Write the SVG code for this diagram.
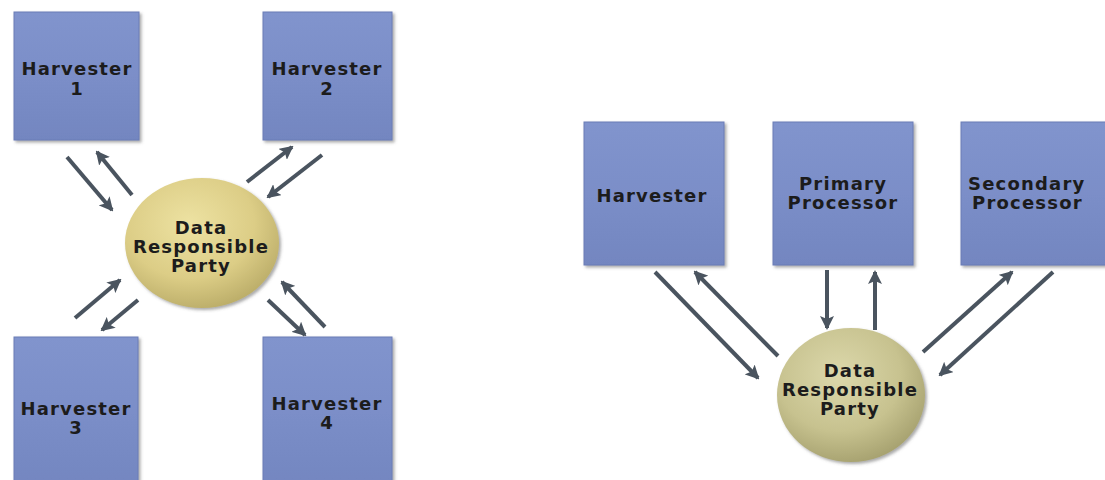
<svg xmlns="http://www.w3.org/2000/svg" width="1105" height="480" viewBox="0 0 1105 480">
  <defs>
    <style>
      .box { fill: url(#boxGrad); stroke: #6a7db6; stroke-width: 1; filter: url(#shadow); }
      .lbl { font-family: "DejaVu Sans", "Liberation Sans", sans-serif; font-weight: bold; font-size: 18px; letter-spacing: 1.2px; fill: #1c1c1c; text-anchor: middle; }
      .st { text-anchor: start; }
      .arr { stroke: #4a545f; stroke-width: 4; fill: none; marker-end: url(#head); }
    </style>
    <linearGradient id="boxGrad" x1="0" y1="0" x2="0" y2="1">
      <stop offset="0" stop-color="#8194cd"/>
      <stop offset="0.5" stop-color="#7b8ec8"/>
      <stop offset="1" stop-color="#7386c0"/>
    </linearGradient>
    <radialGradient id="ellY" cx="0.42" cy="0.35" r="0.7">
      <stop offset="0" stop-color="#ede2a2"/>
      <stop offset="0.6" stop-color="#dccd86"/>
      <stop offset="1" stop-color="#b8aa66"/>
    </radialGradient>
    <radialGradient id="ellO" cx="0.42" cy="0.35" r="0.7">
      <stop offset="0" stop-color="#dcd8ab"/>
      <stop offset="0.6" stop-color="#c7c28f"/>
      <stop offset="1" stop-color="#a39e6c"/>
    </radialGradient>
    <filter id="shadow" x="-10%" y="-10%" width="125%" height="125%">
      <feDropShadow dx="2" dy="2" stdDeviation="1.5" flood-color="#555" flood-opacity="0.5"/>
    </filter>
    <marker id="head" viewBox="0 0 14 14" refX="12" refY="7" markerWidth="14" markerHeight="14" markerUnits="userSpaceOnUse" orient="auto">
      <path d="M0,0 L14,7 L0,14 L3,7 z" fill="#4a545f"/>
    </marker>
  </defs>

  <!-- Left diagram -->
  <g id="h1"><rect class="box" x="14" y="12" width="125" height="128"/>
    <text class="lbl" x="77" y="75">Harvester</text><text class="lbl" x="77" y="95">1</text></g>
  <g id="h2"><rect class="box" x="263" y="12" width="129" height="128"/>
    <text class="lbl" x="327" y="75">Harvester</text><text class="lbl" x="327" y="95">2</text></g>
  <g id="h3"><rect class="box" x="14" y="337" width="124" height="150"/>
    <text class="lbl" x="76" y="415">Harvester</text><text class="lbl" x="76" y="434">3</text></g>
  <g id="h4"><rect class="box" x="263" y="337" width="129" height="150"/>
    <text class="lbl" x="327" y="410">Harvester</text><text class="lbl" x="327" y="429">4</text></g>
  <g id="drp1"><ellipse cx="202" cy="243" rx="77" ry="65" fill="url(#ellY)" filter="url(#shadow)"/>
    <text class="lbl" x="201" y="234">Data</text><text class="lbl" x="201" y="253">Responsible</text><text class="lbl" x="201" y="272">Party</text></g>

  <!-- Right diagram -->
  <g id="rh"><rect class="box" x="584" y="122" width="140" height="143"/>
    <text class="lbl" x="652" y="202">Harvester</text></g>
  <g id="pp"><rect class="box" x="773" y="122" width="140" height="143"/>
    <text class="lbl" x="843" y="190">Primary</text><text class="lbl" x="843" y="209">Processor</text></g>
  <g id="sp"><rect class="box" x="961" y="122" width="150" height="143"/>
    <text class="lbl st" x="968" y="190">Secondary</text><text class="lbl st" x="972" y="209">Processor</text></g>
  <g id="drp2"><ellipse cx="851" cy="395" rx="74" ry="67" fill="url(#ellO)" filter="url(#shadow)"/>
    <text class="lbl" x="850" y="377">Data</text><text class="lbl" x="850" y="396">Responsible</text><text class="lbl" x="850" y="415">Party</text></g>

  <g id="connectors">
    <line class="arr" x1="67" y1="157" x2="112" y2="210"/>
    <line class="arr" x1="132" y1="195" x2="97" y2="152"/>
    <line class="arr" x1="247" y1="182" x2="292" y2="147"/>
    <line class="arr" x1="322" y1="155" x2="268" y2="197"/>
    <line class="arr" x1="75" y1="318" x2="120" y2="280"/>
    <line class="arr" x1="138" y1="300" x2="102" y2="330"/>
    <line class="arr" x1="268" y1="300" x2="305" y2="335"/>
    <line class="arr" x1="325" y1="327" x2="282" y2="282"/>

    <line class="arr" x1="655" y1="272" x2="758" y2="378"/>
    <line class="arr" x1="778" y1="356" x2="695" y2="272"/>
    <line class="arr" x1="827" y1="270" x2="827" y2="328"/>
    <line class="arr" x1="875" y1="330" x2="875" y2="272"/>
    <line class="arr" x1="923" y1="352" x2="1012" y2="272"/>
    <line class="arr" x1="1053" y1="272" x2="940" y2="375"/>
  </g>
</svg>
